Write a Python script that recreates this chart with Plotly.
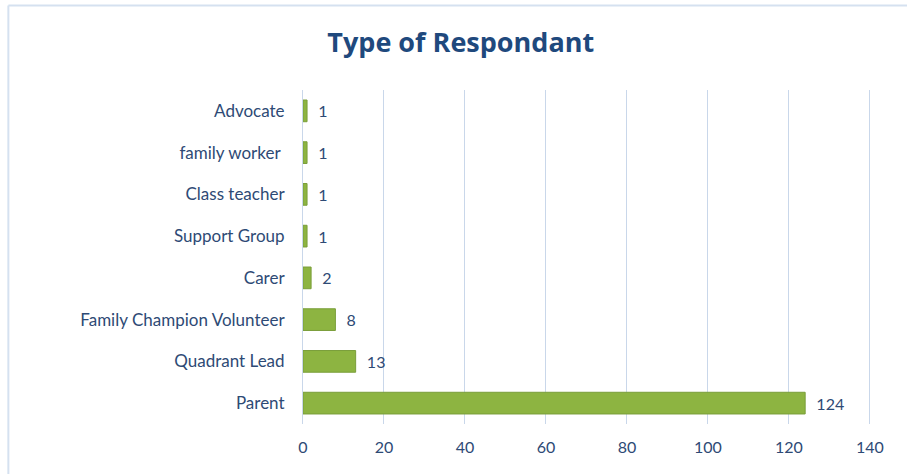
import plotly.graph_objects as go

categories = ["Parent", "Quadrant Lead", "Family Champion Volunteer", "Carer",
              "Support Group", "Class teacher", "family worker ", "Advocate"]
counts = [124, 13, 8, 2, 1, 1, 1, 1]
x_ticks = [0, 20, 40, 60, 80, 100, 120, 140]

fig = go.Figure()
fig.add_trace(go.Bar(
    y=categories, x=counts, orientation="h",
    width=0.52,
    marker=dict(color="#8DB441", line=dict(color="#7A9E3A", width=1)),
    text=["  " + str(v) for v in counts], textposition="outside",
    textfont=dict(color="#2E4A75", size=16, family="Lato, sans-serif"),
    cliponaxis=False,
))

# plot area: x 303..874, y 90..424 in pixels (range runs a bit past 140 so its gridline shows)
fig.update_layout(
    width=907, height=474,
    paper_bgcolor="white", plot_bgcolor="white",
    font=dict(family="Lato, Calibri, sans-serif", color="#2E4A75", size=15),
    title=dict(text="<b>Type of Respondant</b>", x=0.508, xanchor="center",
               y=0.93, yanchor="top",
               font=dict(size=27, color="#1F497D", family="Open Sans, sans-serif")),
    margin=dict(l=303, r=33, t=90, b=50, autoexpand=False),
    showlegend=False,
)
fig.update_xaxes(range=[0, 141], tickvals=x_ticks, showgrid=True,
                 gridcolor="#C9D7EA", gridwidth=1, zeroline=False,
                 showline=False, ticks="", tickfont=dict(size=16),
                 automargin=False, ticklabelstandoff=12)
fig.update_yaxes(showline=True, linecolor="#C9D7EA", ticks="",
                 tickfont=dict(size=17), automargin=False, ticklabelstandoff=14)
border = dict(color="#D5E1F0", width=2)
fig.add_shape(type="line", xref="paper", yref="paper", x0=-0.516, x1=-0.516,
              y0=1.253, y1=-0.16, line=border)
fig.add_shape(type="line", xref="paper", yref="paper", x0=-0.516, x1=1.07,
              y0=1.253, y1=1.253, line=border)

fig.write_html("out.html", config={"displayModeBar": False},
               post_script="document.body.style.margin='0';")
